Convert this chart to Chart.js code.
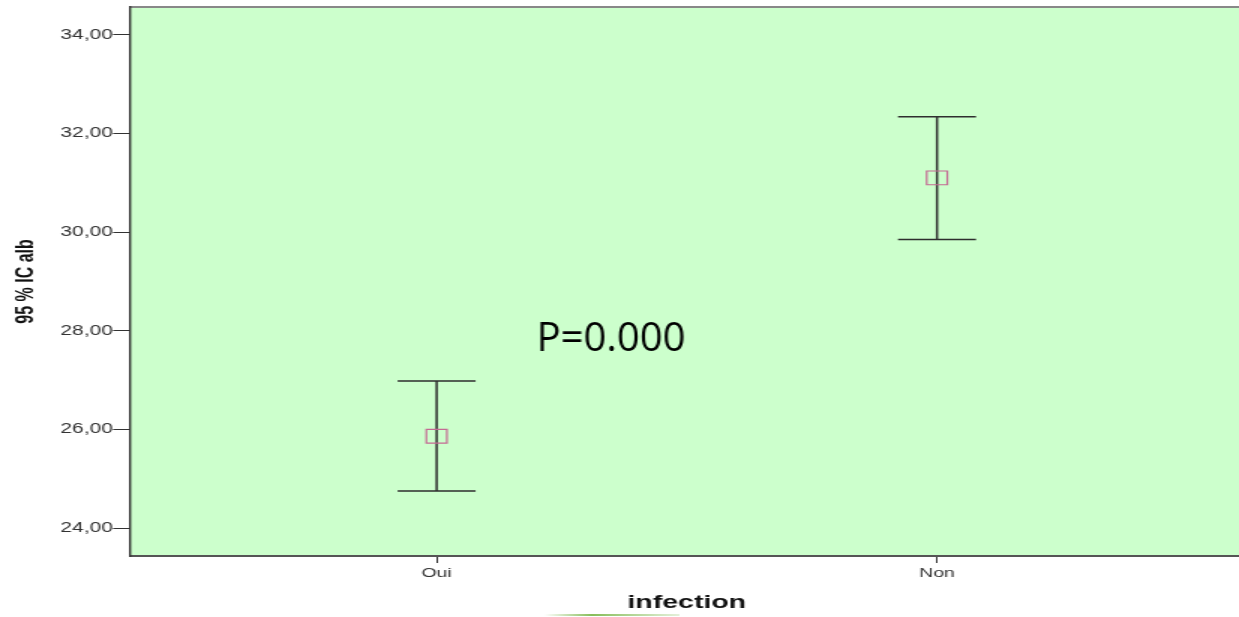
<!DOCTYPE html>
<html>
<head>
<meta charset="utf-8">
<script src="https://cdn.jsdelivr.net/npm/chart.js@4/dist/chart.umd.min.js"></script>
<style>
  html, body { margin: 0; padding: 0; background: #ffffff; overflow: hidden; }
  #clip { position: absolute; left: 0; top: 0; width: 1239px; height: 617px; overflow: hidden; }
  /* the chart is drawn narrow and widened horizontally, like the exported graph */
  #wrap { position: absolute; left: 0; top: 0; transform: scaleX(1.5); transform-origin: 0 0; }
  #wrap canvas { display: block; }
</style>
</head>
<body>
<div id="clip"><div id="wrap"><canvas id="chart" width="830" height="617"></canvas></div></div>
<script>
// Mean and 95 % confidence interval of alb by infection status
const categories = ['Oui', 'Non'];
const means = [25.86, 31.10];
const lowerCI = [24.75, 29.85];
const upperCI = [26.98, 32.34];
const yTicks = [24, 26, 28, 30, 32, 34];
const yTitle = '95 % IC alb';
const xTitle = 'infection';
const pValueText = 'P=0.000';
const pValuePos = { x: 0.2, y: 27.83 };

const STRETCH = 1.5;
// wanted plot frame inside the (unstretched) canvas
const FRAME = { top: 7, right: 830 };

// plot background, top frame line and the small accent strip at the bottom
const framePlugin = {
  id: 'frame',
  beforeDraw(chart) {
    const { ctx, chartArea: a, width } = chart;
    ctx.save();
    ctx.fillStyle = '#ccffcc';
    ctx.fillRect(a.left, a.top, width - a.left, a.bottom - a.top);
    ctx.strokeStyle = '#888888';
    ctx.lineWidth = 2;
    ctx.beginPath();
    ctx.moveTo(a.left, a.top);
    ctx.lineTo(width, a.top);
    ctx.stroke();
    ctx.restore();
  },
  afterDraw(chart) {
    const { ctx, chartArea: a } = chart;
    ctx.save();
    const y0 = a.bottom + 58;
    const g = ctx.createLinearGradient(363, 0, 453, 0);
    g.addColorStop(0, 'rgba(122,182,72,0)');
    g.addColorStop(0.35, 'rgba(122,182,72,0.9)');
    g.addColorStop(1, 'rgba(122,182,72,0.2)');
    ctx.fillStyle = g;
    ctx.fillRect(363, y0, 90, 2);
    ctx.restore();
  }
};

// whiskers with caps for each confidence interval, and the p-value note
const errorBarPlugin = {
  id: 'errorBars',
  beforeDatasetsDraw(chart) {
    const { ctx, scales: { x, y } } = chart;
    const capHalf = 26;
    ctx.save();
    ctx.strokeStyle = '#2e2e2e';
    ctx.lineWidth = 1.5;
    categories.forEach((c, i) => {
      const px = x.getPixelForValue(i);
      const top = y.getPixelForValue(upperCI[i]);
      const bot = y.getPixelForValue(lowerCI[i]);
      ctx.beginPath();
      ctx.moveTo(px, top);
      ctx.lineTo(px, bot);
      ctx.moveTo(px - capHalf, top);
      ctx.lineTo(px + capHalf, top);
      ctx.moveTo(px - capHalf, bot);
      ctx.lineTo(px + capHalf, bot);
      ctx.stroke();
    });
    ctx.restore();
  },
  afterDraw(chart) {
    const { ctx, scales: { x, y } } = chart;
    const px = x.getPixelForValue(pValuePos.x);
    const py = y.getPixelForValue(pValuePos.y);
    ctx.save();
    ctx.translate(px, py);
    ctx.scale(1 / STRETCH, 1);
    ctx.font = '40px "Open Sans", sans-serif';
    ctx.fillStyle = '#000000';
    ctx.textAlign = 'left';
    ctx.textBaseline = 'middle';
    ctx.fillText(pValueText, 0, 0);
    ctx.restore();
  }
};

function config() {
  return {
    type: 'scatter',
    data: {
      datasets: [{
        data: means.map((m, i) => ({ x: i, y: m })),
        pointStyle: 'rect',
        radius: 9.7,
        borderColor: '#c46a93',
        backgroundColor: 'rgba(0,0,0,0)',
        borderWidth: 1.2
      }]
    },
    options: {
      responsive: false,
      animation: false,
      events: [],
      devicePixelRatio: 1,
      layout: { padding: { top: 7, left: 0, right: 0, bottom: 0 } },
      plugins: { legend: { display: false }, tooltip: { enabled: false } },
      scales: {
        x: {
          type: 'linear',
          min: -0.6128,
          max: 1.6128,
          afterBuildTicks(s) { s.ticks = categories.map((c, i) => ({ value: i })); },
          afterFit(s) { s.height = 60; },
          ticks: {
            callback: v => categories[v],
            font: { family: '"Liberation Sans", Arial, sans-serif', size: 13 },
            color: '#333333',
            padding: 3,
            maxRotation: 0
          },
          grid: { drawOnChartArea: false, tickLength: 7, color: '#333333', tickWidth: 1 },
          border: { color: '#555555', width: 2 },
          title: {
            display: true,
            text: xTitle,
            font: { family: '"Liberation Sans", Arial, sans-serif', size: 19, weight: 'bold' },
            color: '#111111',
            padding: { top: 0, bottom: 1.6 }
          }
        },
        y: {
          type: 'linear',
          min: 23.433,
          max: 34.567,
          afterBuildTicks(s) { s.ticks = yTicks.map(v => ({ value: v })); },
          afterFit(s) { s.width = 86.67; },
          ticks: {
            callback: v => v.toFixed(2).replace('.', ','),
            font: { family: '"Liberation Sans", Arial, sans-serif', size: 14 },
            color: '#333333',
            padding: 0
          },
          grid: { drawOnChartArea: false, tickLength: 11.3, color: '#333333', tickWidth: 1 },
          border: { color: '#333333', width: 1.4 },
          title: {
            display: true,
            text: yTitle,
            font: { family: '"Liberation Sans", Arial, sans-serif', size: 16, weight: 'bold' },
            color: '#111111',
            padding: { top: 8.4, bottom: 0 }
          }
        }
      }
    },
    plugins: [framePlugin, errorBarPlugin]
  };
}

// build once, then grow the canvas so the plot frame lands where it should
const canvas = document.getElementById('chart');
const wrap = document.getElementById('wrap');
let chart = new Chart(canvas, config());
const a = chart.chartArea;
const extraTop = Math.max(0, a.top - FRAME.top);
const extraRight = Math.max(0, FRAME.right - a.right);
chart.destroy();
canvas.width = 830 + extraRight;
canvas.height = 617 + extraTop;
wrap.style.top = (-extraTop) + 'px';
chart = new Chart(canvas, config());
</script>
</body>
</html>
